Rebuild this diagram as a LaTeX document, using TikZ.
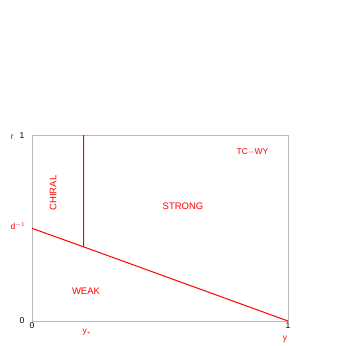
\documentclass[tikz,border=0pt]{standalone}
\usepackage{fontspec}
\setmainfont{Liberation Sans}
\begin{document}
\begin{tikzpicture}[x=1pt, y=-1pt,
    frame/.style={draw=gray!55, line width=0.9pt},
    curve/.style={draw=red, line width=1pt},
    region/.style={text=red, font=\fontsize{9.5}{10}\selectfont, inner sep=0pt},
    tick/.style={text=black, font=\fontsize{8.5}{9}\selectfont, inner sep=0pt},
    axlbl/.style={text=red, font=\fontsize{8.5}{9}\selectfont, inner sep=0pt}
  ]
    \useasboundingbox (0,0) rectangle (346,346);
    % frame
    \coordinate (O) at (32,321);
    \coordinate (TL) at (32,135);
    \coordinate (TR) at (288,135);
    \coordinate (BR) at (288,321);
    \draw[frame] (O) -- (TL) -- (TR) -- (BR) -- cycle;
    % phase boundaries
    \coordinate (DINV) at (32,228.3);
    \coordinate (YSTAR) at (83.5,246.8);
    \coordinate (YTOP) at (83.5,135);
    \draw[curve] (YTOP) -- (YSTAR) -- (BR);
    \draw[curve] (DINV) -- (YSTAR);
    % regions
    \node[region, rotate=90] (chiral) at (53,193) {CHIRAL};
    \node[region] (strong) at (183,206.5) {STRONG};
    \node[region] (weak) at (86,291) {WEAK};
    \node[region, font=\fontsize{8.5}{9}\selectfont] (tcwy) at (252.5,152) {TC$-$WY};
    % axis ticks and labels
    \node[tick] (r1) at (22,136) {1};
    \node[tick] (r0) at (22,320.5) {0};
    \node[tick] (y0) at (32,326) {0};
    \node[tick] (y1) at (288,325.5) {1};
    \node[axlbl] (rlbl) at (12,137) {r};
    \node[axlbl] (dlbl) at (18,226.5) {d$^{-1}$};
    \node[axlbl] (ystar) at (87,332) {y$_*$};
    \node[axlbl] (ylbl) at (285,339) {y};
\end{tikzpicture}
\end{document}
